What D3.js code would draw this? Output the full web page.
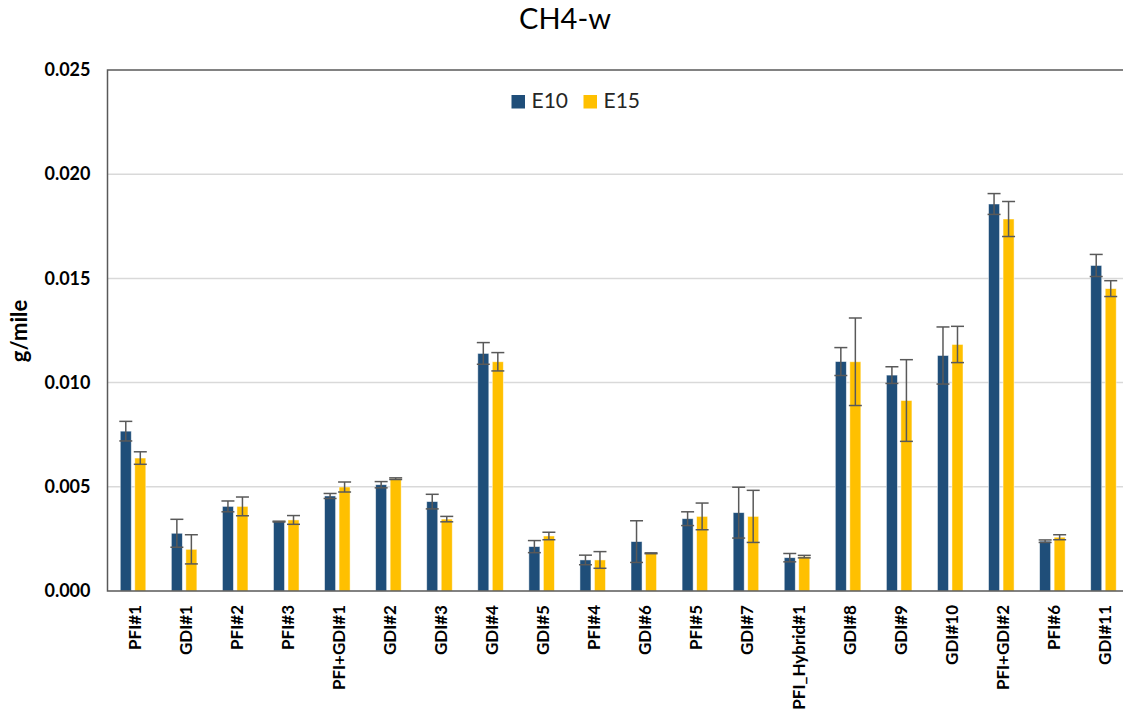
<!DOCTYPE html>
<html>
<head>
<meta charset="utf-8">
<script src="https://cdn.jsdelivr.net/npm/d3@7"></script>
<style>
  html, body { margin: 0; padding: 0; background: #fff; overflow: hidden; }
  svg { display: block; }
</style>
</head>
<body>
<svg id="chart" width="1123" height="721"></svg>
<script>
// ---- data ----
const categories = ["PFI#1","GDI#1","PFI#2","PFI#3","PFI+GDI#1","GDI#2","GDI#3","GDI#4","GDI#5","PFI#4",
  "GDI#6","PFI#5","GDI#7","PFI_Hybrid#1","GDI#8","GDI#9","GDI#10","PFI+GDI#2","PFI#6","GDI#11"];
const seriesNames = ["E10","E15"];
const e10Values = [0.00767,0.00277,0.00406,0.00333,0.00456,0.00510,0.00429,0.01140,0.00213,0.00149,
  0.00237,0.00347,0.00376,0.00160,0.01101,0.01036,0.01130,0.01857,0.00239,0.01562];
const e10Errors = [0.00047,0.00067,0.00026,0.00002,0.00012,0.00015,0.00035,0.00052,0.00029,0.00023,
  0.00100,0.00033,0.00122,0.00020,0.00067,0.00040,0.00137,0.00050,0.00006,0.00053];
const e15Values = [0.00638,0.00200,0.00406,0.00341,0.00499,0.00539,0.00345,0.01100,0.00264,0.00149,
  0.00181,0.00358,0.00358,0.00165,0.01100,0.00914,0.01183,0.01785,0.00258,0.01451];
const e15Errors = [0.00030,0.00070,0.00045,0.00021,0.00024,0.00004,0.00013,0.00044,0.00018,0.00040,
  0.00002,0.00064,0.00125,0.00006,0.00210,0.00196,0.00087,0.00084,0.00012,0.00038];
const yTicks = [0, 0.005, 0.010, 0.015, 0.020, 0.025];
const yTickLabels = ["0.000","0.005","0.010","0.015","0.020","0.025"];
const titleText = "CH4-w";
const yAxisTitle = "g/mile";
const colors = { E10: "#1F4E79", E15: "#FFC000" };

const rows = categories.map((c, i) => ({
  cat: c,
  items: [
    { s: "E10", v: e10Values[i], e: e10Errors[i] },
    { s: "E15", v: e15Values[i], e: e15Errors[i] }
  ]
}));

// ---- layout ----
const plot = { left: 107.5, right: 1129, top: 70, bottom: 591 };
const svg = d3.select("#chart");
const font = "Lato, 'Open Sans', sans-serif";

const x0 = d3.scaleBand().domain(categories).range([plot.left, plot.right]).padding(0);
const x1 = d3.scaleBand().domain(seriesNames).range([0, x0.bandwidth()])
  .paddingInner(0.24).paddingOuter(0.88);
const y = d3.scaleLinear().domain([0, 0.025]).range([plot.bottom, plot.top]);

// gridlines
svg.append("g").selectAll("line").data(yTicks.filter(t => t > 0 && t < 0.025)).join("line")
  .attr("x1", plot.left).attr("x2", plot.right)
  .attr("y1", d => y(d)).attr("y2", d => y(d))
  .attr("stroke", "#d9d9d9").attr("stroke-width", 1.5);

// y axis via d3.axisLeft (labels only)
const yAxis = d3.axisLeft(y).tickValues(yTicks)
  .tickFormat((d, i) => yTickLabels[i]).tickSize(0).tickPadding(17);
const yg = svg.append("g").attr("transform", `translate(${plot.left},0)`).call(yAxis);
yg.select(".domain").remove();
yg.selectAll("text").attr("font-family", font).attr("font-weight", "bold")
  .attr("font-size", 18).attr("fill", "#000");

// bars
const groups = svg.append("g").selectAll("g").data(rows).join("g")
  .attr("transform", d => `translate(${x0(d.cat)},0)`);
groups.selectAll("rect").data(d => d.items).join("rect")
  .attr("x", d => x1(d.s)).attr("width", x1.bandwidth())
  .attr("y", d => y(d.v)).attr("height", d => y(0) - y(d.v))
  .attr("fill", d => colors[d.s])
  .attr("stroke", "rgba(255,255,255,0.6)").attr("stroke-width", 0.8);

// error bars
const capHalf = 6.5;
const eb = groups.selectAll("g.err").data(d => d.items).join("g").attr("class", "err")
  .attr("stroke", "#595959").attr("stroke-width", 1.5);
eb.append("line")
  .attr("x1", d => x1(d.s) + x1.bandwidth() / 2).attr("x2", d => x1(d.s) + x1.bandwidth() / 2)
  .attr("y1", d => y(d.v + d.e)).attr("y2", d => y(d.v - d.e));
eb.append("line")
  .attr("x1", d => x1(d.s) + x1.bandwidth() / 2 - capHalf).attr("x2", d => x1(d.s) + x1.bandwidth() / 2 + capHalf)
  .attr("y1", d => y(d.v + d.e)).attr("y2", d => y(d.v + d.e));
eb.append("line")
  .attr("x1", d => x1(d.s) + x1.bandwidth() / 2 - capHalf).attr("x2", d => x1(d.s) + x1.bandwidth() / 2 + capHalf)
  .attr("y1", d => y(d.v - d.e)).attr("y2", d => y(d.v - d.e));

// frame
svg.append("rect").attr("x", plot.left).attr("y", plot.top)
  .attr("width", plot.right - plot.left).attr("height", plot.bottom - plot.top)
  .attr("fill", "none").attr("stroke", "#595959").attr("stroke-width", 1.5);

// x axis labels via d3.axisBottom
const xAxis = d3.axisBottom(x0).tickSize(0).tickPadding(0);
const xg = svg.append("g").attr("transform", `translate(0,${plot.bottom})`).call(xAxis);
xg.select(".domain").remove();
xg.selectAll("text")
  .attr("font-family", font).attr("font-weight", "bold").attr("font-size", 17).attr("fill", "#000")
  .attr("text-anchor", "end").attr("dy", null).attr("y", 0).attr("x", 0)
  .attr("dominant-baseline", "central")
  .attr("transform", "translate(1,14) rotate(-90)");

// title
svg.append("text").attr("x", 565).attr("y", 29).attr("text-anchor", "middle")
  .attr("font-family", font).attr("font-size", 29).attr("fill", "#000").text(titleText);

// y axis title
svg.append("text").attr("transform", `translate(27,331) rotate(-90)`).attr("text-anchor", "middle")
  .attr("font-family", font).attr("font-weight", "bold").attr("font-size", 22).attr("fill", "#000")
  .text(yAxisTitle);

// legend
const legendX = [511.5, 583.5];
const lg = svg.append("g").selectAll("g").data(seriesNames).join("g")
  .attr("transform", (d, i) => `translate(${legendX[i]},95)`);
lg.append("rect").attr("width", 13.5).attr("height", 13.5).attr("fill", d => colors[d]);
lg.append("text").attr("x", 20).attr("y", 13.3).attr("font-family", font).attr("font-size", 21)
  .attr("fill", "#262626").text(d => d);
</script>
</body>
</html>
